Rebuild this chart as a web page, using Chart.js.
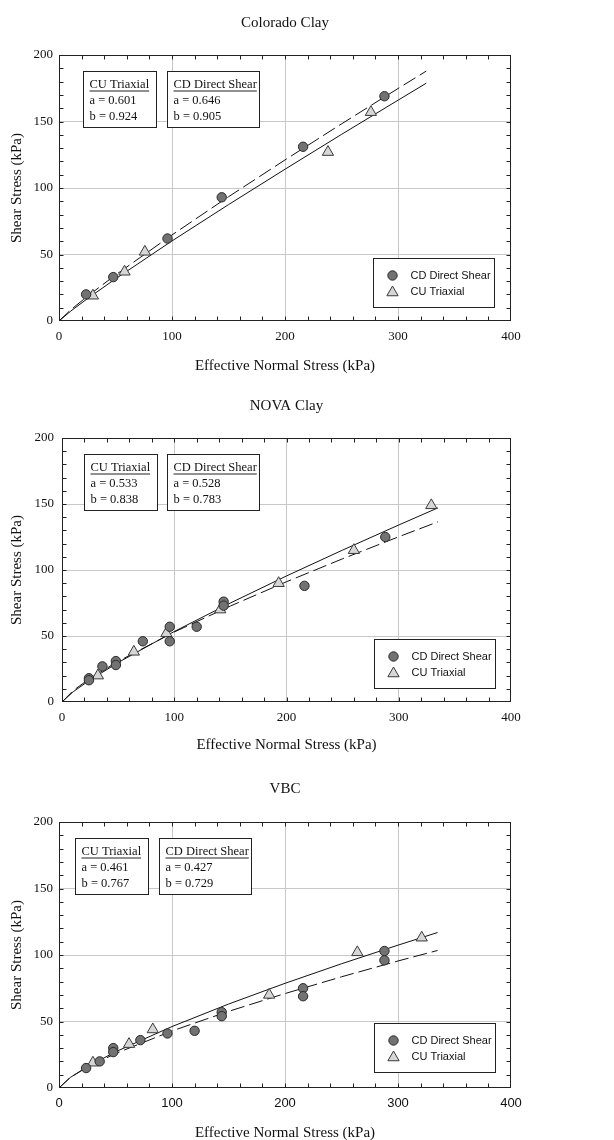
<!DOCTYPE html>
<html>
<head>
<meta charset="utf-8">
<script src="https://cdn.jsdelivr.net/npm/chart.js@4.4.1/dist/chart.umd.min.js"></script>
<style>
  html, body { margin: 0; padding: 0; background: #fff; overflow: hidden; }
  .panel { position: absolute; left: 0; width: 614px; }
</style>
</head>
<body>
<div class="panel" style="top:0px"><canvas id="chartColorado" width="614" height="375"></canvas></div>
<div class="panel" style="top:375px"><canvas id="chartNova" width="614" height="380"></canvas></div>
<div class="panel" style="top:755px"><canvas id="chartVbc" width="614" height="387"></canvas></div>
<script>
// axes
const xTicks = [0, 100, 200, 300, 400];
const yTicks = [0, 50, 100, 150, 200];
const xMinorStep = 20;
const yMinorStep = 10;
const seriesNames = ["CD Direct Shear", "CU Triaxial"];

// Colorado Clay
const coloradoShearX = [24, 48, 96, 144, 216, 288];
const coloradoShearY = [20, 33, 62, 93, 131, 169];
const coloradoTriaxX = [30, 58, 76, 238, 276];
const coloradoTriaxY = [19, 37, 52, 127, 157];
const coloradoFitX = [0, 10, 25, 50, 100, 150, 200, 250, 300, 325];
const coloradoTriaxFit = [0, 7.2, 16.7, 31.7, 60.2, 87.5, 114.1, 140.3, 166.0, 178.8];
const coloradoShearFit = [0, 8.1, 18.5, 34.6, 64.7, 93.4, 121.1, 148.2, 174.8, 187.9];
const coloradoTriaxParams = ["a = 0.601", "b = 0.924"];
const coloradoShearParams = ["a = 0.646", "b = 0.905"];

// NOVA Clay
const novaShearX = [24, 24, 36, 48, 48, 72, 96, 96, 120, 144, 144, 216, 288];
const novaShearY = [18, 16.5, 27, 31, 28, 46, 57, 46, 57, 76, 73, 88, 125];
const novaTriaxX = [32, 64, 93, 141, 193, 260, 329];
const novaTriaxY = [20, 38, 52, 70, 90, 115, 149];
const novaFitX = [0, 10, 25, 50, 100, 150, 200, 250, 300, 335];
const novaTriaxFit = [0, 7.8, 16.7, 29.9, 53.4, 75.0, 95.5, 115.1, 134.1, 147.1];
const novaShearFit = [0, 8.7, 17.9, 30.8, 53.0, 72.7, 91.1, 108.5, 125.2, 136.5];
const novaTriaxParams = ["a = 0.533", "b = 0.838"];
const novaShearParams = ["a = 0.528", "b = 0.783"];

// VBC
const vbcShearX = [24, 36, 48, 48, 72, 96, 120, 144, 144, 216, 216, 288, 288];
const vbcShearY = [15, 20, 30, 27, 36, 41, 43, 57, 54, 75, 69, 103, 96];
const vbcTriaxX = [30, 62, 83, 186, 264, 321];
const vbcTriaxY = [19, 33, 44, 70, 102, 113];
const vbcFitX = [0, 10, 25, 50, 100, 150, 200, 250, 300, 335];
const vbcTriaxFit = [0, 7.9, 16.0, 27.2, 46.2, 63.1, 78.7, 93.4, 107.4, 116.9];
const vbcShearFit = [0, 8.0, 15.6, 25.9, 42.9, 57.6, 71.0, 83.6, 95.5, 103.4];
const vbcTriaxParams = ["a = 0.461", "b = 0.767"];
const vbcShearParams = ["a = 0.427", "b = 0.729"];

const SERIF = "'Liberation Serif', 'Times New Roman', serif";
const SANS = "'Liberation Sans', Arial, sans-serif";
Chart.defaults.font.family = SERIF;
Chart.defaults.color = "#111";

const pts = (xs, ys) => xs.map((x, i) => ({ x: x, y: ys[i] }));

const circleStyle = { pointStyle: "circle", radius: 4.7, backgroundColor: "#727272", borderColor: "#2a2a2a" };
const triangleStyle = { pointStyle: "triangle", radius: 6.5, backgroundColor: "#d6d6d6", borderColor: "#3a3a3a" };

// title, frame, inward ticks, parameter boxes and legend
const decorPlugin = {
  id: "decor",
  afterDraw(chart, args, opts) {
    const { ctx, chartArea: ca, scales } = chart;
    const L = Math.round(ca.left) + 0.5, R = Math.round(ca.right) - 0.5;
    const T = Math.round(ca.top) + 0.5, B = Math.round(ca.bottom) - 0.5;
    ctx.save();

    // panel title, centred over the plot
    ctx.fillStyle = "#111";
    ctx.font = "15px " + SERIF;
    ctx.textAlign = "center";
    ctx.textBaseline = "middle";
    ctx.fillText(opts.title, (ca.left + ca.right) / 2, opts.titleY);

    ctx.strokeStyle = "#222";
    ctx.lineWidth = 1;
    ctx.beginPath();
    for (let v = xMinorStep; v < xTicks[xTicks.length - 1]; v += xMinorStep) {
      const px = Math.round(scales.x.getPixelForValue(v)) + 0.5;
      ctx.moveTo(px, B); ctx.lineTo(px, B - 4);
      ctx.moveTo(px, T); ctx.lineTo(px, T + 4);
    }
    for (let v = yMinorStep; v < yTicks[yTicks.length - 1]; v += yMinorStep) {
      const py = Math.round(scales.y.getPixelForValue(v)) + 0.5;
      ctx.moveTo(L, py); ctx.lineTo(L + 4, py);
      ctx.moveTo(R, py); ctx.lineTo(R - 4, py);
    }
    ctx.stroke();
    ctx.strokeRect(L, T, R - L, B - T);

    // parameter boxes
    ctx.textAlign = "left";
    opts.boxes.forEach(b => {
      const bx = Math.round(ca.left + b.dx) + 0.5, by = Math.round(ca.top + b.dy) + 0.5;
      ctx.fillStyle = "#fff";
      ctx.fillRect(bx, by, b.w, 56);
      ctx.strokeStyle = "#222";
      ctx.strokeRect(bx, by, b.w, 56);
      ctx.fillStyle = "#111";
      ctx.font = "12.5px " + SERIF;
      ctx.textBaseline = "middle";
      ctx.fillText(b.title, bx + 6, by + 13);
      const w = ctx.measureText(b.title).width;
      ctx.beginPath();
      ctx.moveTo(bx + 6, by + 19.5); ctx.lineTo(bx + 6 + w, by + 19.5);
      ctx.stroke();
      ctx.fillText(b.lines[0], bx + 6, by + 29);
      ctx.fillText(b.lines[1], bx + 6, by + 45);
    });

    // legend
    const lw = 121, lh = 49;
    const lx = Math.round(ca.right - opts.legendRight - lw) + 0.5;
    const ly = Math.round(ca.bottom - opts.legendBottom - lh) + 0.5;
    ctx.fillStyle = "#fff";
    ctx.fillRect(lx, ly, lw, lh);
    ctx.strokeStyle = "#222";
    ctx.strokeRect(lx, ly, lw, lh);
    [circleStyle, triangleStyle].forEach((s, i) => {
      const cy = ly + 17 + i * 16;
      ctx.fillStyle = s.backgroundColor;
      ctx.strokeStyle = s.borderColor;
      ctx.lineWidth = 1;
      Chart.helpers.drawPoint(ctx, { pointStyle: s.pointStyle, radius: s.radius, borderWidth: 1, rotation: 0 }, lx + 19, cy + (i ? 1 : 0));
      ctx.fillStyle = "#111";
      ctx.font = "11px " + SANS;
      ctx.textBaseline = "middle";
      ctx.fillText(seriesNames[i], lx + 37, cy);
    });
    ctx.restore();
  }
};

function makePanel(id, p) {
  const canvas = document.getElementById(id);
  new Chart(canvas, {
    type: "scatter",
    data: {
      datasets: [
        {
          label: seriesNames[0],
          data: pts(p.shearX, p.shearY),
          pointStyle: circleStyle.pointStyle,
          pointRadius: circleStyle.radius,
          pointBackgroundColor: circleStyle.backgroundColor,
          pointBorderColor: circleStyle.borderColor,
          pointBorderWidth: 1,
        },
        {
          label: seriesNames[1],
          data: pts(p.triaxX, p.triaxY),
          pointStyle: triangleStyle.pointStyle,
          pointRadius: triangleStyle.radius,
          pointBackgroundColor: triangleStyle.backgroundColor,
          pointBorderColor: triangleStyle.borderColor,
          pointBorderWidth: 1,
        },
        {
          label: "CU Triaxial fit",
          data: pts(p.fitX, p.triaxFit),
          showLine: true,
          pointRadius: 0,
          borderColor: "#111",
          borderWidth: 1,
        },
        {
          label: "CD Direct Shear fit",
          data: pts(p.fitX, p.shearFit),
          showLine: true,
          pointRadius: 0,
          borderColor: "#111",
          borderWidth: 1,
          borderDash: [14, 5],
        },
      ],
    },
    options: {
      responsive: false,
      animation: false,
      layout: { padding: { left: 0, right: 103, top: p.plotTop, bottom: 0 } },
      scales: {
        x: {
          type: "linear",
          min: xTicks[0],
          max: xTicks[xTicks.length - 1],
          afterBuildTicks: (s) => { s.ticks = xTicks.map(v => ({ value: v })); },
          afterFit: (s) => { s.height = p.xHeight; },
          border: { display: false },
          grid: {
            drawTicks: false,
            color: (c) => (c.tick && c.tick.value > xTicks[0] && c.tick.value < xTicks[xTicks.length - 1]) ? "#c8c8c8" : "rgba(0,0,0,0)",
          },
          ticks: { padding: 8, font: { size: 13, family: p.xTickFont }, color: "#111", maxRotation: 0 },
          title: {
            display: true,
            text: "Effective Normal Stress (kPa)",
            font: { size: 15 },
            color: "#111",
            padding: { top: 0, bottom: p.xTitlePad },
          },
        },
        y: {
          type: "linear",
          min: yTicks[0],
          max: yTicks[yTicks.length - 1],
          afterBuildTicks: (s) => { s.ticks = yTicks.map(v => ({ value: v })); },
          afterFit: (s) => { s.width = p.yWidth; },
          border: { display: false },
          grid: {
            drawTicks: false,
            color: (c) => (c.tick && c.tick.value > yTicks[0] && c.tick.value < yTicks[yTicks.length - 1]) ? "#c8c8c8" : "rgba(0,0,0,0)",
          },
          ticks: { padding: p.yTickPad, font: { size: 13 }, color: "#111" },
          title: {
            display: true,
            text: "Shear Stress (kPa)",
            font: { size: 15 },
            color: "#111",
            padding: { top: 8, bottom: 0 },
          },
        },
      },
      plugins: {
        legend: { display: false },
        tooltip: { enabled: false },
        title: { display: false },
        decor: {
          title: p.title,
          titleY: p.titleY,
          boxes: [
            { dx: p.box1, dy: 16, w: 73, title: "CU Triaxial", lines: p.triaxParams },
            { dx: p.box2, dy: 16, w: 92, title: "CD Direct Shear", lines: p.shearParams },
          ],
          legendRight: p.legendRight,
          legendBottom: p.legendBottom,
        },
      },
    },
    plugins: [decorPlugin],
  });
}

makePanel("chartColorado", {
  title: "Colorado Clay",
  shearX: coloradoShearX, shearY: coloradoShearY,
  triaxX: coloradoTriaxX, triaxY: coloradoTriaxY,
  fitX: coloradoFitX, triaxFit: coloradoTriaxFit, shearFit: coloradoShearFit,
  triaxParams: coloradoTriaxParams, shearParams: coloradoShearParams,
  titleY: 23, plotTop: 55, xHeight: 54, xTitlePad: 0, yWidth: 59, yTickPad: 6,
  xTickFont: SERIF, box1: 24, box2: 108, legendRight: 17, legendBottom: 14,
});

makePanel("chartNova", {
  title: "NOVA Clay",
  shearX: novaShearX, shearY: novaShearY,
  triaxX: novaTriaxX, triaxY: novaTriaxY,
  fitX: novaFitX, triaxFit: novaTriaxFit, shearFit: novaShearFit,
  triaxParams: novaTriaxParams, shearParams: novaShearParams,
  titleY: 31, plotTop: 63, xHeight: 53, xTitlePad: 1, yWidth: 62, yTickPad: 8,
  xTickFont: SERIF, box1: 22, box2: 105, legendRight: 16, legendBottom: 14,
});

makePanel("chartVbc", {
  title: "VBC",
  shearX: vbcShearX, shearY: vbcShearY,
  triaxX: vbcTriaxX, triaxY: vbcTriaxY,
  fitX: vbcFitX, triaxFit: vbcTriaxFit, shearFit: vbcShearFit,
  triaxParams: vbcTriaxParams, shearParams: vbcShearParams,
  titleY: 34, plotTop: 67, xHeight: 54, xTitlePad: 0, yWidth: 59, yTickPad: 6,
  xTickFont: SANS, box1: 16, box2: 100, legendRight: 16, legendBottom: 16,
});
</script>
</body>
</html>
